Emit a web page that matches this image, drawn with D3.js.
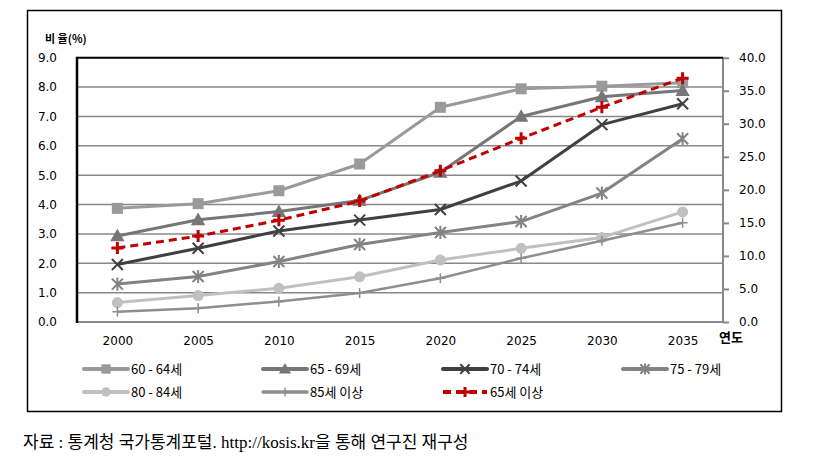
<!DOCTYPE html>
<html><head><meta charset="utf-8">
<script src="https://cdn.jsdelivr.net/npm/d3@7"></script>
<style>body{margin:0;background:#fff;} svg{display:block;}</style>
</head><body>
<svg id="chart" width="822" height="470"></svg>
<script>
const years = ["2000","2005","2010","2015","2020","2025","2030","2035"];
const leftTicks = [0,1,2,3,4,5,6,7,8,9];
const rightTicks = [0,5,10,15,20,25,30,35,40];
const s6064 = [3.87,4.03,4.47,5.38,7.31,7.94,8.03,8.15];
const s6569 = [2.93,3.48,3.76,4.14,5.10,7.00,7.67,7.88];
const s7074 = [1.96,2.51,3.10,3.47,3.83,4.80,6.72,7.43];
const s7579 = [1.29,1.55,2.06,2.64,3.05,3.42,4.39,6.24];
const s8084 = [0.66,0.90,1.15,1.54,2.11,2.51,2.88,3.75];
const s85p  = [0.35,0.47,0.70,0.99,1.49,2.17,2.77,3.38];
const s65p  = [11.2,13.0,15.4,18.3,22.9,27.8,32.5,36.9];
const seriesNames = ["60 - 64세","65 - 69세","70 - 74세","75 - 79세","80 - 84세","85세 이상","65세 이상"];

const svg = d3.select("#chart");
const L = 77, R = 723, T = 57.7, B = 322;
const x = d3.scalePoint().domain(years).range([L, R]).padding(0.5);
const yL = d3.scaleLinear().domain([0,9]).range([B, T]);
const yR = d3.scaleLinear().domain([0,40]).range([B, T]);
const numFont = "'DejaVu Sans', Verdana, sans-serif";
const korFont = "'Noto Sans CJK KR', 'DejaVu Sans', sans-serif";

// outer frame
svg.append("rect").attr("x",27.5).attr("y",10.5).attr("width",754).attr("height",401)
  .attr("fill","none").attr("stroke","#000").attr("stroke-width",1.5);

// gridlines (left axis)
svg.append("g").selectAll("line").data(leftTicks.filter(d=>d>0 && d<9)).join("line")
  .attr("x1",L).attr("x2",R).attr("y1",d=>yL(d)).attr("y2",d=>yL(d))
  .attr("stroke","#888").attr("stroke-width",1.5);

// left axis
const gL = svg.append("g").attr("transform",`translate(${L},0)`)
  .call(d3.axisLeft(yL).tickValues(leftTicks).tickFormat(d3.format(".1f")).tickSize(0).tickPadding(20));
gL.select(".domain").remove();
gL.selectAll("text").attr("font-family",numFont).attr("font-size",12).attr("fill","#000");

// right axis
const gR = svg.append("g").attr("transform",`translate(${R},0)`)
  .call(d3.axisRight(yR).tickValues(rightTicks).tickFormat(d3.format(".1f")).tickSize(6).tickPadding(10));
gR.select(".domain").remove();
gR.selectAll("line").attr("stroke","#888").attr("stroke-width",2);
gR.selectAll("text").attr("font-family",numFont).attr("font-size",12).attr("fill","#000");

// x axis labels
const gX = svg.append("g").attr("transform",`translate(0,${B})`)
  .call(d3.axisBottom(x).tickSize(0).tickPadding(14));
gX.select(".domain").remove();
gX.selectAll("text").attr("font-family",numFont).attr("font-size",12).attr("fill","#000");

// plot borders
svg.append("line").attr("x1",L).attr("x2",R).attr("y1",B).attr("y2",B).attr("stroke","#888").attr("stroke-width",2);
svg.append("line").attr("x1",R).attr("x2",R).attr("y1",T).attr("y2",B).attr("stroke","#888").attr("stroke-width",2);
svg.append("line").attr("x1",L).attr("x2",R).attr("y1",T).attr("y2",T).attr("stroke","#000").attr("stroke-width",2);
svg.append("line").attr("x1",L).attr("x2",L).attr("y1",T-1).attr("y2",B+1).attr("stroke","#000").attr("stroke-width",2.5);

// axis titles
svg.append("text").attr("x",45).attr("y",43).attr("font-family",korFont).attr("font-size",11)
  .attr("font-weight","bold").text("비 율(%)");
svg.append("text").attr("x",719).attr("y",342).attr("font-family",korFont).attr("font-size",13)
  .attr("font-weight","bold").text("연도");

// marker drawing
function marker(g, type, color, size){
  const s = size;
  if(type==="square") g.append("rect").attr("x",-s/2).attr("y",-s/2).attr("width",s).attr("height",s).attr("fill",color);
  else if(type==="triangle") g.append("path").attr("d",`M0,${-s*0.6}L${s*0.6},${s*0.45}L${-s*0.6},${s*0.45}Z`).attr("fill",color);
  else if(type==="circle") g.append("circle").attr("r",s/2).attr("fill",color);
  else if(type==="x") g.append("path").attr("d",`M${-s/2},${-s/2}L${s/2},${s/2}M${s/2},${-s/2}L${-s/2},${s/2}`).attr("stroke",color).attr("stroke-width",2);
  else if(type==="star") g.append("path").attr("d",`M${-s/2},${-s/2}L${s/2},${s/2}M${s/2},${-s/2}L${-s/2},${s/2}M0,${-s*0.6}L0,${s*0.6}`).attr("stroke",color).attr("stroke-width",2);
  else if(type==="plus") g.append("path").attr("d",`M${-s/2},0L${s/2},0M0,${-s/2}L0,${s/2}`).attr("stroke",color).attr("stroke-width",size>10?3:1.5);
}

const series = [
  {name:seriesNames[0], vals:s6064, scale:yL, color:"#9a9a9a", w:3, m:"square", ms:11, dash:null},
  {name:seriesNames[1], vals:s6569, scale:yL, color:"#767676", w:3, m:"triangle", ms:12, dash:null},
  {name:seriesNames[2], vals:s7074, scale:yL, color:"#404040", w:3, m:"x", ms:11, dash:null},
  {name:seriesNames[3], vals:s7579, scale:yL, color:"#838383", w:3, m:"star", ms:11, dash:null},
  {name:seriesNames[4], vals:s8084, scale:yL, color:"#c0c0c0", w:3, m:"circle", ms:11, dash:null},
  {name:seriesNames[5], vals:s85p,  scale:yL, color:"#8e8e8e", w:2.5, m:"plus", ms:10, dash:null},
  {name:seriesNames[6], vals:s65p,  scale:yR, color:"#c00000", w:3, m:"plus", ms:12, dash:"8,5"}
];

series.forEach(s=>{
  const line = d3.line().x((d,i)=>x(years[i])).y(d=>s.scale(d));
  svg.append("path").datum(s.vals).attr("d",line).attr("fill","none")
    .attr("stroke",s.color).attr("stroke-width",s.w).attr("stroke-dasharray",s.dash)
    .attr("stroke-linejoin","round");
  s.vals.forEach((v,i)=>{
    const g = svg.append("g").attr("transform",`translate(${x(years[i])},${s.scale(v)})`);
    marker(g, s.m, s.color, s.ms);
  });
});

// legend
const legPos = [[84,369],[263,369],[443,369],[623,369],[84,392],[263,392],[443,392]];
series.forEach((s,i)=>{
  const [lx,ly] = legPos[i];
  svg.append("line").attr("x1",lx).attr("x2",lx+44).attr("y1",ly).attr("y2",ly)
    .attr("stroke",s.color).attr("stroke-width",s.w+1).attr("stroke-dasharray",s.dash)
    .attr("stroke-linecap", s.dash?"butt":"round");
  const g = svg.append("g").attr("transform",`translate(${lx+22},${ly})`);
  marker(g, s.m, s.color, s.ms*0.85);
  svg.append("text").attr("x",lx+47).attr("y",ly+5).attr("font-family",korFont)
    .attr("font-size",13).attr("fill","#000").text(s.name);
});

// source caption
svg.append("text").attr("x",23).attr("y",448)
  .attr("font-family","'Liberation Serif', 'Noto Sans CJK KR', serif").attr("font-size",17).attr("fill","#000")
  .text("자료 : 통계청 국가통계포털. http://kosis.kr을 통해 연구진 재구성");
</script>
</body></html>
